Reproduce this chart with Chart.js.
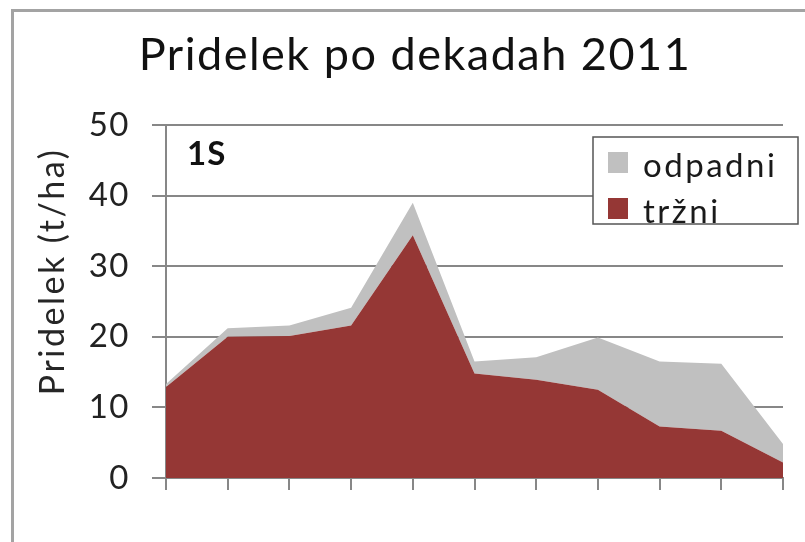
<!DOCTYPE html>
<html>
<head>
<meta charset="utf-8">
<script src="https://cdn.jsdelivr.net/npm/chart.js@4.4.1/dist/chart.umd.min.js"></script>
<style>
  html, body { margin: 0; padding: 0; background: #fff; overflow: hidden; }
  #wrap { position: relative; width: 805px; height: 542px; }
  #frame { position: absolute; left: 11px; top: 9px; width: 820px; height: 560px; border-left: 3px solid #a3a3a3; border-top: 3px solid #a3a3a3; box-sizing: border-box; }
  canvas { position: absolute; left: 0; top: 0; }
</style>
</head>
<body>
<div id="wrap">
  <div id="frame"></div>
  <canvas id="c" width="805" height="542"></canvas>
</div>
<script>
// ---- data ----
const chartTitle = 'Pridelek po dekadah 2011';
const yAxisTitle = 'Pridelek (t/ha)';
const panelLabel = '1S';
const categories = ['1', '2', '3', '4', '5', '6', '7', '8', '9', '10', '11'];
const trzni   = [12.9, 20.0, 20.1, 21.6, 34.4, 14.8, 13.9, 12.5, 7.3, 6.7, 2.2];
const odpadni = [0.4, 1.2, 1.5, 2.5, 4.6, 1.7, 3.2, 7.4, 9.2, 9.5, 2.6];
const seriesNames = ['tržni', 'odpadni'];
const yMin = 0, yMax = 50, yStep = 10;

const RED = '#953735';
const GRAY = '#c0c0c0';
const GRID = '#878787';
const FONT = 'Lato';

const spacingPlugin = {
  id: 'spacing',
  beforeLayout(chart) { chart.ctx.letterSpacing = '1.5px'; },
  beforeDraw(chart) { chart.ctx.letterSpacing = '1.5px'; }
};

const extrasPlugin = {
  id: 'extras',
  afterDraw(chart) {
    const ctx = chart.ctx;
    const ca = chart.chartArea;
    // y axis title
    ctx.save();
    ctx.letterSpacing = '2.5px';
    ctx.font = '34px ' + FONT;
    ctx.fillStyle = '#262626';
    ctx.textAlign = 'center';
    ctx.textBaseline = 'middle';
    ctx.translate(53, ca.top + (ca.bottom - ca.top) * 0.415);
    ctx.rotate(-Math.PI / 2);
    ctx.fillText(yAxisTitle, 0, 0);
    ctx.restore();

    // panel label
    ctx.save();
    ctx.letterSpacing = '1px';
    ctx.font = 'bold 33px ' + FONT;
    ctx.fillStyle = '#111';
    ctx.textAlign = 'left';
    ctx.textBaseline = 'alphabetic';
    ctx.fillText(panelLabel, ca.left + 21, ca.top + 40);
    ctx.restore();

    // legend box
    const bx = ca.left + 427, by = ca.top + 12, bw = 205, bh = 87;
    ctx.save();
    ctx.fillStyle = '#fff';
    ctx.fillRect(bx, by, bw, bh);
    ctx.strokeStyle = '#555';
    ctx.lineWidth = 1.5;
    ctx.strokeRect(bx, by, bw, bh);
    const items = [chart.data.datasets[1], chart.data.datasets[0]];
    ctx.font = '33px ' + FONT;
    ctx.letterSpacing = '2.5px';
    ctx.textAlign = 'left';
    ctx.textBaseline = 'alphabetic';
    items.forEach((ds, i) => {
      const yy = by + 15 + i * 46;
      ctx.fillStyle = ds.backgroundColor;
      ctx.fillRect(bx + 15, yy, 20, 21);
      ctx.fillStyle = '#1a1a1a';
      ctx.fillText(ds.label, bx + 50, yy + 25);
    });
    ctx.restore();
  }
};

new Chart(document.getElementById('c'), {
  type: 'line',
  data: {
    labels: categories,
    datasets: [
      { label: seriesNames[0], data: trzni, fill: 'origin', backgroundColor: RED, borderWidth: 0, borderColor: RED, pointRadius: 0, tension: 0 },
      { label: seriesNames[1], data: odpadni, fill: '-1', backgroundColor: GRAY, borderWidth: 0, borderColor: GRAY, pointRadius: 0, tension: 0 }
    ]
  },
  options: {
    responsive: false,
    animation: false,
    layout: { padding: { left: 47, right: 22, top: 0, bottom: 0 } },
    plugins: {
      legend: { display: false },
      tooltip: { enabled: false },
      title: {
        display: true,
        text: chartTitle,
        color: '#111',
        font: { family: FONT, size: 45, weight: 'normal', lineHeight: 1.2 },
        padding: { top: 28, bottom: 43 }
      }
    },
    scales: {
      x: {
        offset: false,
        grid: { drawOnChartArea: false, drawTicks: true, tickLength: 12, color: GRID, lineWidth: 2, offset: false },
        border: { display: true, color: GRID, width: 2 },
        ticks: { display: false },
        afterFit(s) { s.height = 64; }
      },
      y: {
        stacked: true,
        min: yMin, max: yMax,
        ticks: { stepSize: yStep, color: '#222', font: { family: FONT, size: 33 }, padding: 22 },
        grid: { color: GRID, lineWidth: 2, tickLength: 14, drawTicks: true },
        border: { display: true, color: GRID, width: 2 },
        afterFit(s) { s.width = 119; }
      }
    }
  },
  plugins: [spacingPlugin, extrasPlugin]
});
</script>
</body>
</html>
